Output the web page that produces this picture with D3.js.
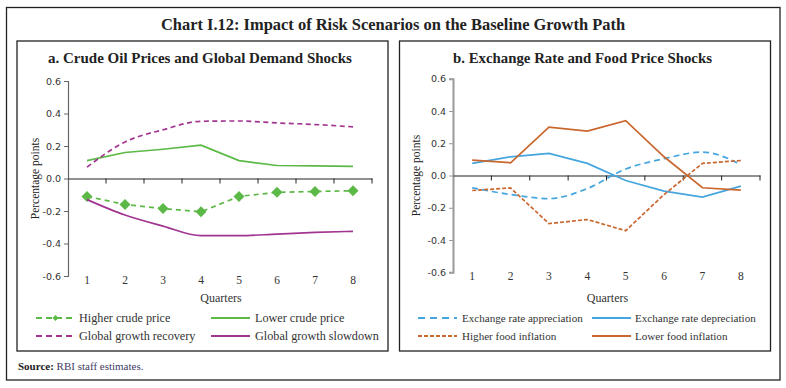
<!DOCTYPE html>
<html><head><meta charset="utf-8">
<script src="https://cdn.jsdelivr.net/npm/d3@7"></script>
<style>body{margin:0;background:#fff}svg{display:block}</style>
</head><body>
<svg id="c" width="786" height="388"></svg>
<script>
// ---------- data ----------
const quarters = ["1","2","3","4","5","6","7","8"];
const yTicks = [-0.6,-0.4,-0.2,0.0,0.2,0.4,0.6];
const yTickLabels = ["-0.6","-0.4","-0.2","0.0","0.2","0.4","0.6"];

const higherCrude      = [-0.11,-0.16,-0.185,-0.205,-0.11,-0.085,-0.08,-0.075];
const lowerCrude       = [0.11,0.16,0.18,0.205,0.11,0.08,0.078,0.075];
const globalRecovery   = [0.07,0.225,0.30,0.352,0.354,0.342,0.332,0.318];
const globalSlowdown   = [-0.13,-0.225,-0.293,-0.352,-0.352,-0.342,-0.332,-0.325];

const exAppreciation   = [-0.076,-0.118,-0.143,-0.081,0.04,0.104,0.145,0.068];
const exDepreciation   = [0.075,0.116,0.137,0.075,-0.031,-0.097,-0.134,-0.066];
const higherFood       = [-0.093,-0.077,-0.298,-0.273,-0.342,-0.118,0.075,0.093];
const lowerFood        = [0.095,0.079,0.30,0.275,0.34,0.116,-0.076,-0.091];

const chartTitle = "Chart I.12: Impact of Risk Scenarios on the Baseline Growth Path";
const panelTitles = ["a. Crude Oil Prices and Global Demand Shocks","b. Exchange Rate and Food Price Shocks"];
const xTitle = "Quarters";
const yTitle = "Percentage points";

// ---------- styling ----------
const serif = "'Liberation Serif','DejaVu Serif',serif";
const sans = "'DejaVu Sans',Verdana,sans-serif";
const GREEN = "#5cb947", PURPLE = "#a23591", BLUE = "#45a6df", ORANGE = "#c9672f";

const svg = d3.select("#c");
svg.append("rect").attr("width",786).attr("height",388).attr("fill","#fff");

function fit(sel, target){
  const w = sel.node().getComputedTextLength();
  const fs = parseFloat(sel.attr("font-size"));
  sel.attr("font-size", (fs*target/w).toFixed(2));
  return sel;
}

// frames
svg.append("rect").attr("x",6.5).attr("y",7.5).attr("width",773.5).attr("height",372.5)
  .attr("fill","none").attr("stroke","#222").attr("stroke-width",1.3);

fit(svg.append("text").attr("x",393).attr("y",30).attr("text-anchor","middle")
  .attr("font-family",serif).attr("font-weight","bold").attr("font-size",17).attr("fill","#222")
  .text(chartTitle), 464);

// source
const src = svg.append("text").attr("x",18).attr("y",369.5).attr("font-family",serif).attr("font-size",11);
src.append("tspan").attr("font-weight","bold").attr("fill","#222").text("Source: ");
src.append("tspan").attr("fill","#3e3a66").text("RBI  staff estimates.");

const panels = [
  {
    box:[17,41,388,351], xr:[68,372], yr:[276,81], titleX:200, titleW:304, axisColor:"#666",
    ylabX:35, legFont:12.2,
    series:[
      {name:"Higher crude price", values:higherCrude, color:GREEN, dash:"5,4", legDash:"6,4", marker:true, curve:d3.curveLinear},
      {name:"Lower crude price", values:lowerCrude, color:GREEN, dash:null, curve:d3.curveLinear},
      {name:"Global growth recovery", values:globalRecovery, color:PURPLE, dash:"5,3.5", legDash:"6,4", curve:d3.curveMonotoneX},
      {name:"Global growth slowdown", values:globalSlowdown, color:PURPLE, dash:null, curve:d3.curveMonotoneX}
    ],
    leg:[{x:36,t:79},{x:211,t:255}]
  },
  {
    box:[399.5,41,770.5,351], xr:[453,760], yr:[272.3,78.7], titleX:582.5, titleW:259, axisColor:"#9a9a9a",
    ylabX:416, legFont:11.1,
    series:[
      {name:"Exchange rate appreciation", values:exAppreciation, color:BLUE, dash:"6,4", legDash:"7,5", curve:d3.curveMonotoneX},
      {name:"Exchange rate depreciation", values:exDepreciation, color:BLUE, dash:null, curve:d3.curveLinear},
      {name:"Higher food inflation", values:higherFood, color:ORANGE, dash:"4,2", legDash:"4,2", curve:d3.curveLinear},
      {name:"Lower food inflation", values:lowerFood, color:ORANGE, dash:null, curve:d3.curveLinear}
    ],
    leg:[{x:418,t:462},{x:592,t:635}]
  }
];

const diamond = (s)=>`M0,${-s}L${s},0L0,${s}L${-s},0Z`;

panels.forEach((p,pi)=>{
  const g = svg.append("g");
  const [x0,y0,x1,y1] = p.box;
  g.append("rect").attr("x",x0).attr("y",y0).attr("width",x1-x0).attr("height",y1-y0)
    .attr("fill","none").attr("stroke","#222").attr("stroke-width",1.3);
  fit(g.append("text").attr("x",p.titleX).attr("y",63).attr("text-anchor","middle")
    .attr("font-family",serif).attr("font-weight","bold").attr("font-size",15).attr("fill","#222")
    .text(panelTitles[pi]), p.titleW);

  const x = d3.scaleBand().domain(quarters).range(p.xr);
  const y = d3.scaleLinear().domain([-0.6,0.6]).range(p.yr);
  const xc = d => x(d)+x.bandwidth()/2;

  // y axis
  const ya = g.append("g").attr("transform",`translate(${p.xr[0]},0)`)
    .call(d3.axisLeft(y).tickValues(yTicks).tickFormat((d,i)=>yTickLabels[i]).tickSize(4).tickPadding(3));
  ya.select(".domain").attr("stroke",p.axisColor).attr("stroke-width",pi?2:1.2);
  ya.selectAll(".tick line").attr("stroke",p.axisColor).attr("stroke-width",1);
  ya.selectAll(".tick text").attr("font-family",sans).attr("font-size",9.5).attr("fill","#333");

  // x axis at zero
  const xa = g.append("g").attr("transform",`translate(0,${y(0)})`)
    .call(d3.axisBottom(x).tickSize(0).tickFormat(""));
  xa.select(".domain").attr("stroke","#222").attr("stroke-width",1.2);
  xa.selectAll(".tick").remove();
  const bounds = quarters.map(q=>x(q)).concat([p.xr[1]]).slice(1);
  g.selectAll(".xt").data(bounds).join("line")
    .attr("x1",d=>d).attr("x2",d=>d).attr("y1",y(0)).attr("y2",y(0)+5)
    .attr("stroke","#222").attr("stroke-width",1);

  // x tick labels at bottom
  g.selectAll(".xl").data(quarters).join("text")
    .attr("x",d=>xc(d)).attr("y",p.yr[0]+8).attr("text-anchor","middle")
    .attr("font-family",serif).attr("font-size",11.5).attr("fill","#333").text(d=>d);

  // axis titles
  g.append("text").attr("x",(p.xr[0]+p.xr[1])/2+1).attr("y",301.5).attr("text-anchor","middle")
    .attr("font-family",serif).attr("font-size",12).attr("fill","#333").text(xTitle);
  g.append("text").attr("transform",`translate(${p.ylabX+4},${(p.yr[0]+p.yr[1])/2}) rotate(-90)`)
    .attr("text-anchor","middle").attr("font-family",serif).attr("font-size",11.5).attr("fill","#222").text(yTitle);

  // lines
  p.series.forEach(s=>{
    const line = d3.line().x((d,i)=>xc(quarters[i])).y(d=>y(d)).curve(s.curve);
    g.append("path").attr("d",line(s.values)).attr("fill","none")
      .attr("stroke",s.color).attr("stroke-width",1.7)
      .attr("stroke-dasharray",s.dash);
    if(s.marker){
      g.selectAll(".mk").data(s.values).join("path")
        .attr("transform",(d,i)=>`translate(${xc(quarters[i])},${y(d)})`)
        .attr("d",diamond(5.5)).attr("fill",s.color);
    }
  });

  // legend
  p.series.forEach((s,i)=>{
    const col = p.leg[i%2], ly = i<2 ? 318 : 336;
    g.append("line").attr("x1",col.x).attr("x2",col.x+39).attr("y1",ly).attr("y2",ly)
      .attr("stroke",s.color).attr("stroke-width",2).attr("stroke-dasharray",s.dash ? s.legDash : null);
    if(s.marker){
      g.append("path").attr("transform",`translate(${col.x+19.5},${ly})`).attr("d",diamond(3)).attr("fill",s.color);
    }
    g.append("text").attr("x",col.t).attr("y",ly+4).attr("font-family",serif)
      .attr("font-size",p.legFont).attr("fill","#333").text(s.name);
  });
});
</script>
</body></html>
